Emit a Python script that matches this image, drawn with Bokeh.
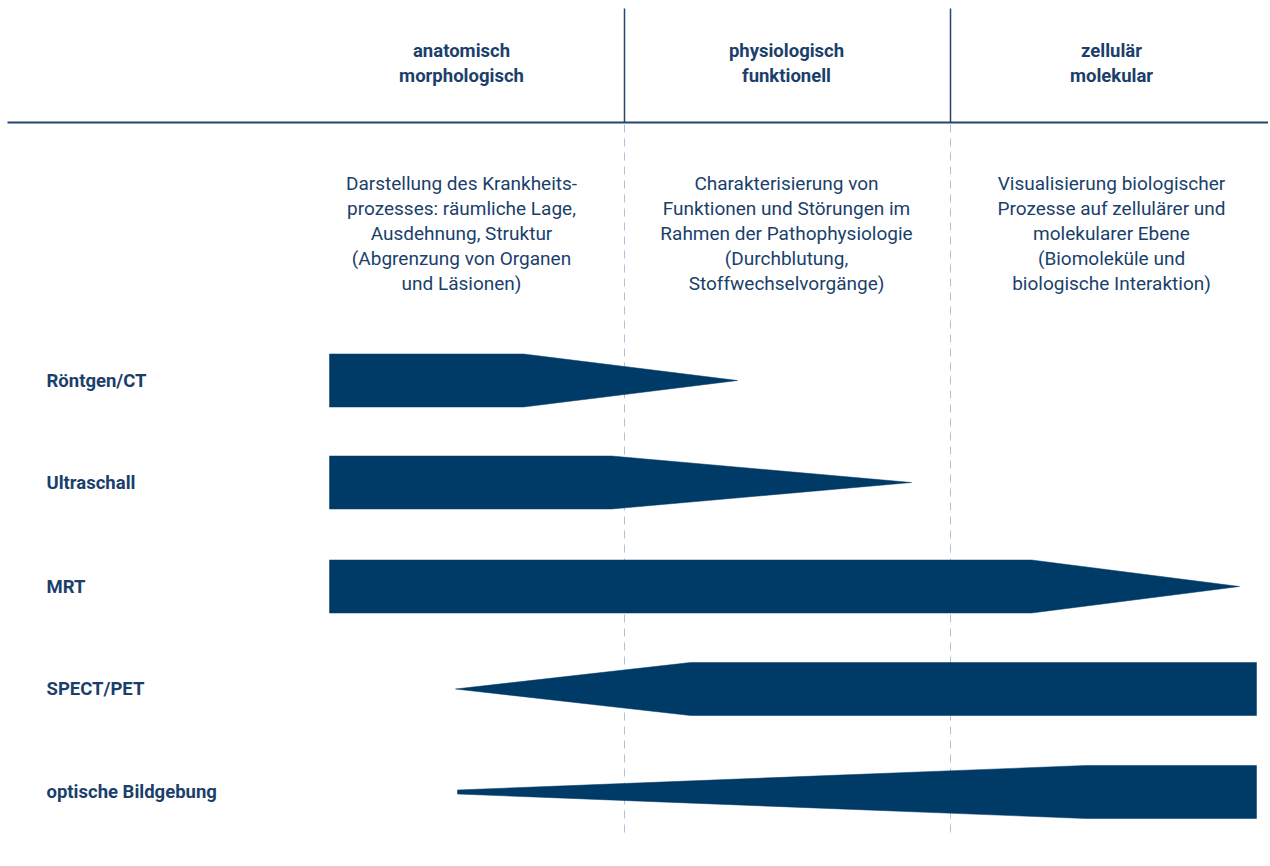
from bokeh.plotting import figure
from bokeh.models import Range1d
from bokeh.core.properties import value
from bokeh.embed import file_html
from bokeh.resources import INLINE

# ---------------- data ----------------
headers = [["anatomisch", "morphologisch"],
           ["physiologisch", "funktionell"],
           ["zellulär", "molekular"]]
header_x = [461, 786, 1111]
header_y = [50, 75]

descriptions = [
    ["Darstellung des Krankheits-", "prozesses: räumliche Lage,", "Ausdehnung, Struktur",
     "(Abgrenzung von Organen", "und Läsionen)"],
    ["Charakterisierung von", "Funktionen und Störungen im", "Rahmen der Pathophysiologie",
     "(Durchblutung,", "Stoffwechselvorgänge)"],
    ["Visualisierung biologischer", "Prozesse auf zellulärer und", "molekularer Ebene",
     "(Biomoleküle und", "biologische Interaktion)"],
]
desc_y = [183, 208, 233, 258, 283]

methods = ["Röntgen/CT", "Ultraschall", "MRT", "SPECT/PET", "optische Bildgebung"]
row_y = [380, 482, 586, 688.5, 791.5]
# shape of each band: left x, left half-height, kink x, right x, right half-height
left_x = [329, 329, 329, 455, 457]
left_h = [26.5, 26.5, 26.5, 0, 2]
kink_x = [523, 611, 1031, 690, 1085]
right_x = [737, 911, 1239, 1256, 1256]
right_h = [0, 0, 0, 26.5, 26.5]
full_h = 26.5

divider_x = [624, 950]
header_line_y = 122

NAVY = "#003a66"
TEXT = "#1b3f6b"
LINE = "#24466f"
DASH = "#b3c1d8"
FONT = "Roboto"

# ---------------- figure ----------------
W, H = 1268, 862
p = figure(width=W, height=H, output_backend="svg", toolbar_location=None,
           x_range=Range1d(0, W), y_range=Range1d(H, 0),
           min_border=0, outline_line_color=None)
p.axis.visible = False
p.grid.visible = False
p.background_fill_color = "white"
p.border_fill_color = "white"

# header frame
p.segment(x0=[7], y0=[header_line_y], x1=[1270], y1=[header_line_y],
          line_color=LINE, line_width=2)
p.segment(x0=divider_x, y0=[8, 8], x1=divider_x, y1=[header_line_y] * 2,
          line_color=LINE, line_width=1.5)
p.segment(x0=divider_x, y0=[header_line_y + 2] * 2, x1=divider_x, y1=[832, 832],
          line_color=DASH, line_width=1, line_dash="8 6")

# header text
hx, hy, ht = [], [], []
for cx, lines in zip(header_x, headers):
    for ly, t in zip(header_y, lines):
        hx.append(cx); hy.append(ly); ht.append(t)
p.text(x=hx, y=hy, text=ht, text_align="center", text_baseline="middle",
       text_font=value(FONT), text_font_style="bold", text_font_size="18.5px",
       text_color=TEXT)

# description text
dx, dy, dt = [], [], []
for cx, lines in zip(header_x, descriptions):
    for ly, t in zip(desc_y, lines):
        dx.append(cx); dy.append(ly); dt.append(t)
p.text(x=dx, y=dy, text=dt, text_align="center", text_baseline="middle",
       text_font=value(FONT), text_font_size="19px", text_color=TEXT)

# bands
xs, ys = [], []
for c, xl, hl, xk, xr, hr in zip(row_y, left_x, left_h, kink_x, right_x, right_h):
    if hl < full_h:  # widening band (tip on the left)
        xs.append([xl, xk, xr, xr, xk, xl])
        ys.append([c - hl, c - full_h, c - full_h, c + full_h, c + full_h, c + hl])
    else:            # narrowing band (tip on the right)
        xs.append([xl, xk, xr, xr, xk, xl])
        ys.append([c - full_h, c - full_h, c - hr, c + hr, c + full_h, c + full_h])
p.patches(xs=xs, ys=ys, fill_color=NAVY, line_color=NAVY, line_width=0.5)

# row labels
p.text(x=[46] * len(methods), y=row_y, text=methods, text_align="left",
       text_baseline="middle", text_font=value(FONT), text_font_style="bold",
       text_font_size="18.5px", text_color=TEXT)

open("out.html", "w").write(file_html(p, INLINE))
